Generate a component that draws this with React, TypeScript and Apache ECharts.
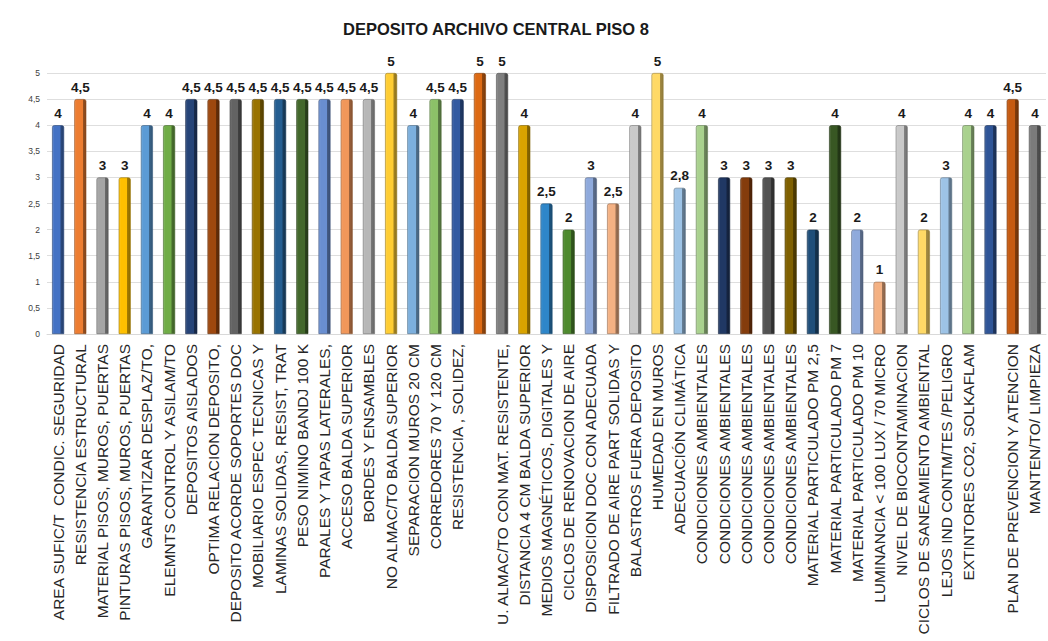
import React, { useEffect, useRef } from "react";
import * as echarts from "echarts";

const chartTitle = "DEPOSITO ARCHIVO CENTRAL PISO 8";

const categories = [
  "AREA SUFIC/T  CONDIC. SEGURIDAD",
  "RESISTENCIA ESTRUCTURAL",
  "MATERIAL PISOS, MUROS, PUERTAS",
  "PINTURAS PISOS, MUROS, PUERTAS",
  "GARANTIZAR DESPLAZ/TO,",
  "ELEMNTS CONTROL Y ASILAM/TO",
  "DEPOSITOS AISLADOS",
  "OPTIMA RELACION DEPOSITO,",
  "DEPOSITO ACORDE SOPORTES DOC",
  "MOBILIARIO ESPEC TECNICAS Y",
  "LAMINAS SOLIDAS, RESIST, TRAT",
  "PESO NIMINO BANDJ 100 K",
  "PARALES Y TAPAS LATERALES,",
  "ACCESO BALDA SUPERIOR",
  "BORDES Y ENSAMBLES",
  "NO ALMAC/TO BALDA SUPERIOR",
  "SEPARACION MUROS 20 CM",
  "CORREDORES 70 Y 120 CM",
  "RESISTENCIA , SOLIDEZ,",
  "",
  "U. ALMAC/TO CON MAT. RESISTENTE,",
  "DISTANCIA 4 CM BALDA SUPERIOR",
  "MEDIOS MAGNÉTICOS, DIGITALES Y",
  "CICLOS DE RENOVACION DE AIRE",
  "DISPOSICION DOC CON ADECUADA",
  "FILTRADO DE AIRE PART SOLIDAS Y",
  "BALASTROS FUERA DEPOSITO",
  "HUMEDAD EN MUROS",
  "ADECUACIÓN CLIMÁTICA",
  "CONDICIONES AMBIENTALES",
  "CONDICIONES AMBIENTALES",
  "CONDICIONES AMBIENTALES",
  "CONDICIONES AMBIENTALES",
  "CONDICIONES AMBIENTALES",
  "MATERIAL PARTICULADO PM 2,5",
  "MATERIAL PARTICULADO PM 7",
  "MATERIAL PARTICULADO PM 10",
  "LUMINANCIA < 100 LUX / 70 MICRO",
  "NIVEL DE BIOCONTAMINACION",
  "CICLOS DE SANEAMIENTO AMBIENTAL",
  "LEJOS IND CONTM/TES /PELIGRO",
  "EXTINTORES CO2, SOLKAFLAM",
  "",
  "PLAN DE PREVENCION Y ATENCION",
  "MANTEN/TO/ LIMPIEZA",
];

const values = [
  4, 4.5, 3, 3, 4, 4, 4.5, 4.5, 4.5, 4.5, 4.5, 4.5, 4.5, 4.5, 4.5, 5, 4, 4.5, 4.5,
  5, 5, 4, 2.5, 2, 3, 2.5, 4, 5, 2.8, 4, 3, 3, 3, 3, 2, 4, 2, 1, 4, 2, 3, 4, 4, 4.5, 4,
];

const yTicks = [0, 0.5, 1, 1.5, 2, 2.5, 3, 3.5, 4, 4.5, 5];

const palette = [
  "#4472C4", "#ED7D31", "#A5A5A5", "#FFC000", "#5B9BD5", "#70AD47",
  "#264478", "#9E480E", "#636363", "#997300", "#255E91", "#43682B",
  "#698ED0", "#F1975A", "#B7B7B7", "#FFCD33", "#7CAFDD", "#8CC168",
  "#335AA1", "#DD6A14", "#7F7F7F", "#D9A300", "#2E86C9", "#4E8A2E",
  "#8FAADC", "#F4B183", "#C9C9C9", "#FFD966", "#9DC3E6", "#A9D18E",
  "#203864", "#843C0C", "#525252", "#7F6000", "#1F4E79", "#385723",
  "#8FAADC", "#F4B183", "#C9C9C9", "#FFD966", "#9DC3E6", "#A9D18E",
  "#2F5597", "#C55A11", "#7B7B7B",
];

function shade(hex: string, f: number): string {
  const n = parseInt(hex.slice(1), 16);
  let r = (n >> 16) & 255, g = (n >> 8) & 255, b = n & 255;
  if (f < 0) {
    r = Math.round(r * (1 + f)); g = Math.round(g * (1 + f)); b = Math.round(b * (1 + f));
  } else {
    r = Math.round(r + (255 - r) * f); g = Math.round(g + (255 - g) * f); b = Math.round(b + (255 - b) * f);
  }
  return "#" + ((1 << 24) + (r << 16) + (g << 8) + b).toString(16).slice(1);
}

const fmt = (v: number) => String(v).replace(".", ",");

export default function App() {
  const ref = useRef<HTMLDivElement>(null);
  useEffect(() => {
    if (!ref.current) return;
    const chart = echarts.init(ref.current, null, { renderer: "svg" });
    const font = "Liberation Sans, Arial, sans-serif";
    chart.setOption({
      animation: false,
      backgroundColor: "#ffffff",
      title: {
        text: chartTitle,
        left: 491,
        top: 15,
        textAlign: "center",
        textStyle: { fontSize: 16.5, fontWeight: "bold", color: "#1a1a1a", fontFamily: font },
      },
      grid: { left: 47, right: 2, top: 73, bottom: 307, containLabel: false },
      xAxis: {
        type: "category",
        data: categories,
        axisLine: { show: true, lineStyle: { color: "#d9d9d9" } },
        axisTick: { show: false },
        axisLabel: {
          interval: 0,
          rotate: 90,
          margin: 10,
          fontSize: 15.5,
          color: "#262626",
          fontFamily: font,
        },
      },
      yAxis: {
        type: "value",
        min: 0,
        max: 5,
        interval: 0.5,
        axisLine: { show: false },
        axisTick: { show: false },
        splitLine: { lineStyle: { color: "#dedede" } },
        axisLabel: {
          fontSize: 8.5,
          color: "#404040",
          margin: 7,
          fontFamily: font,
          formatter: (v: number) => (yTicks.includes(v) ? fmt(v) : ""),
        },
      },
      series: [
        {
          type: "bar",
          barWidth: 12,
          data: values.map((v, i) => {
            const c = palette[i % palette.length];
            return {
              value: v,
              itemStyle: {
                color: {
                  type: "linear", x: 0, y: 0, x2: 1, y2: 0,
                  colorStops: [
                    { offset: 0, color: shade(c, 0.15) },
                    { offset: 0.18, color: c },
                    { offset: 0.7, color: c },
                    { offset: 0.72, color: shade(c, -0.35) },
                    { offset: 1, color: shade(c, -0.45) },
                  ],
                },
                borderColor: shade(c, -0.4),
                borderWidth: 0.6,
                borderRadius: [2, 2, 0, 0],
              },
            };
          }),
          label: {
            show: true,
            position: "top",
            distance: 5,
            fontSize: 13.5,
            fontWeight: "bold",
            color: "#1a1a1a",
            fontFamily: font,
            formatter: (p: any) => fmt(p.value),
          },
        },
      ],
    });
    return () => chart.dispose();
  }, []);
  return (
    <div
      ref={ref}
      style={{ position: "fixed", left: 0, top: 0, width: 1048, height: 641, background: "#fff" }}
    />
  );
}
